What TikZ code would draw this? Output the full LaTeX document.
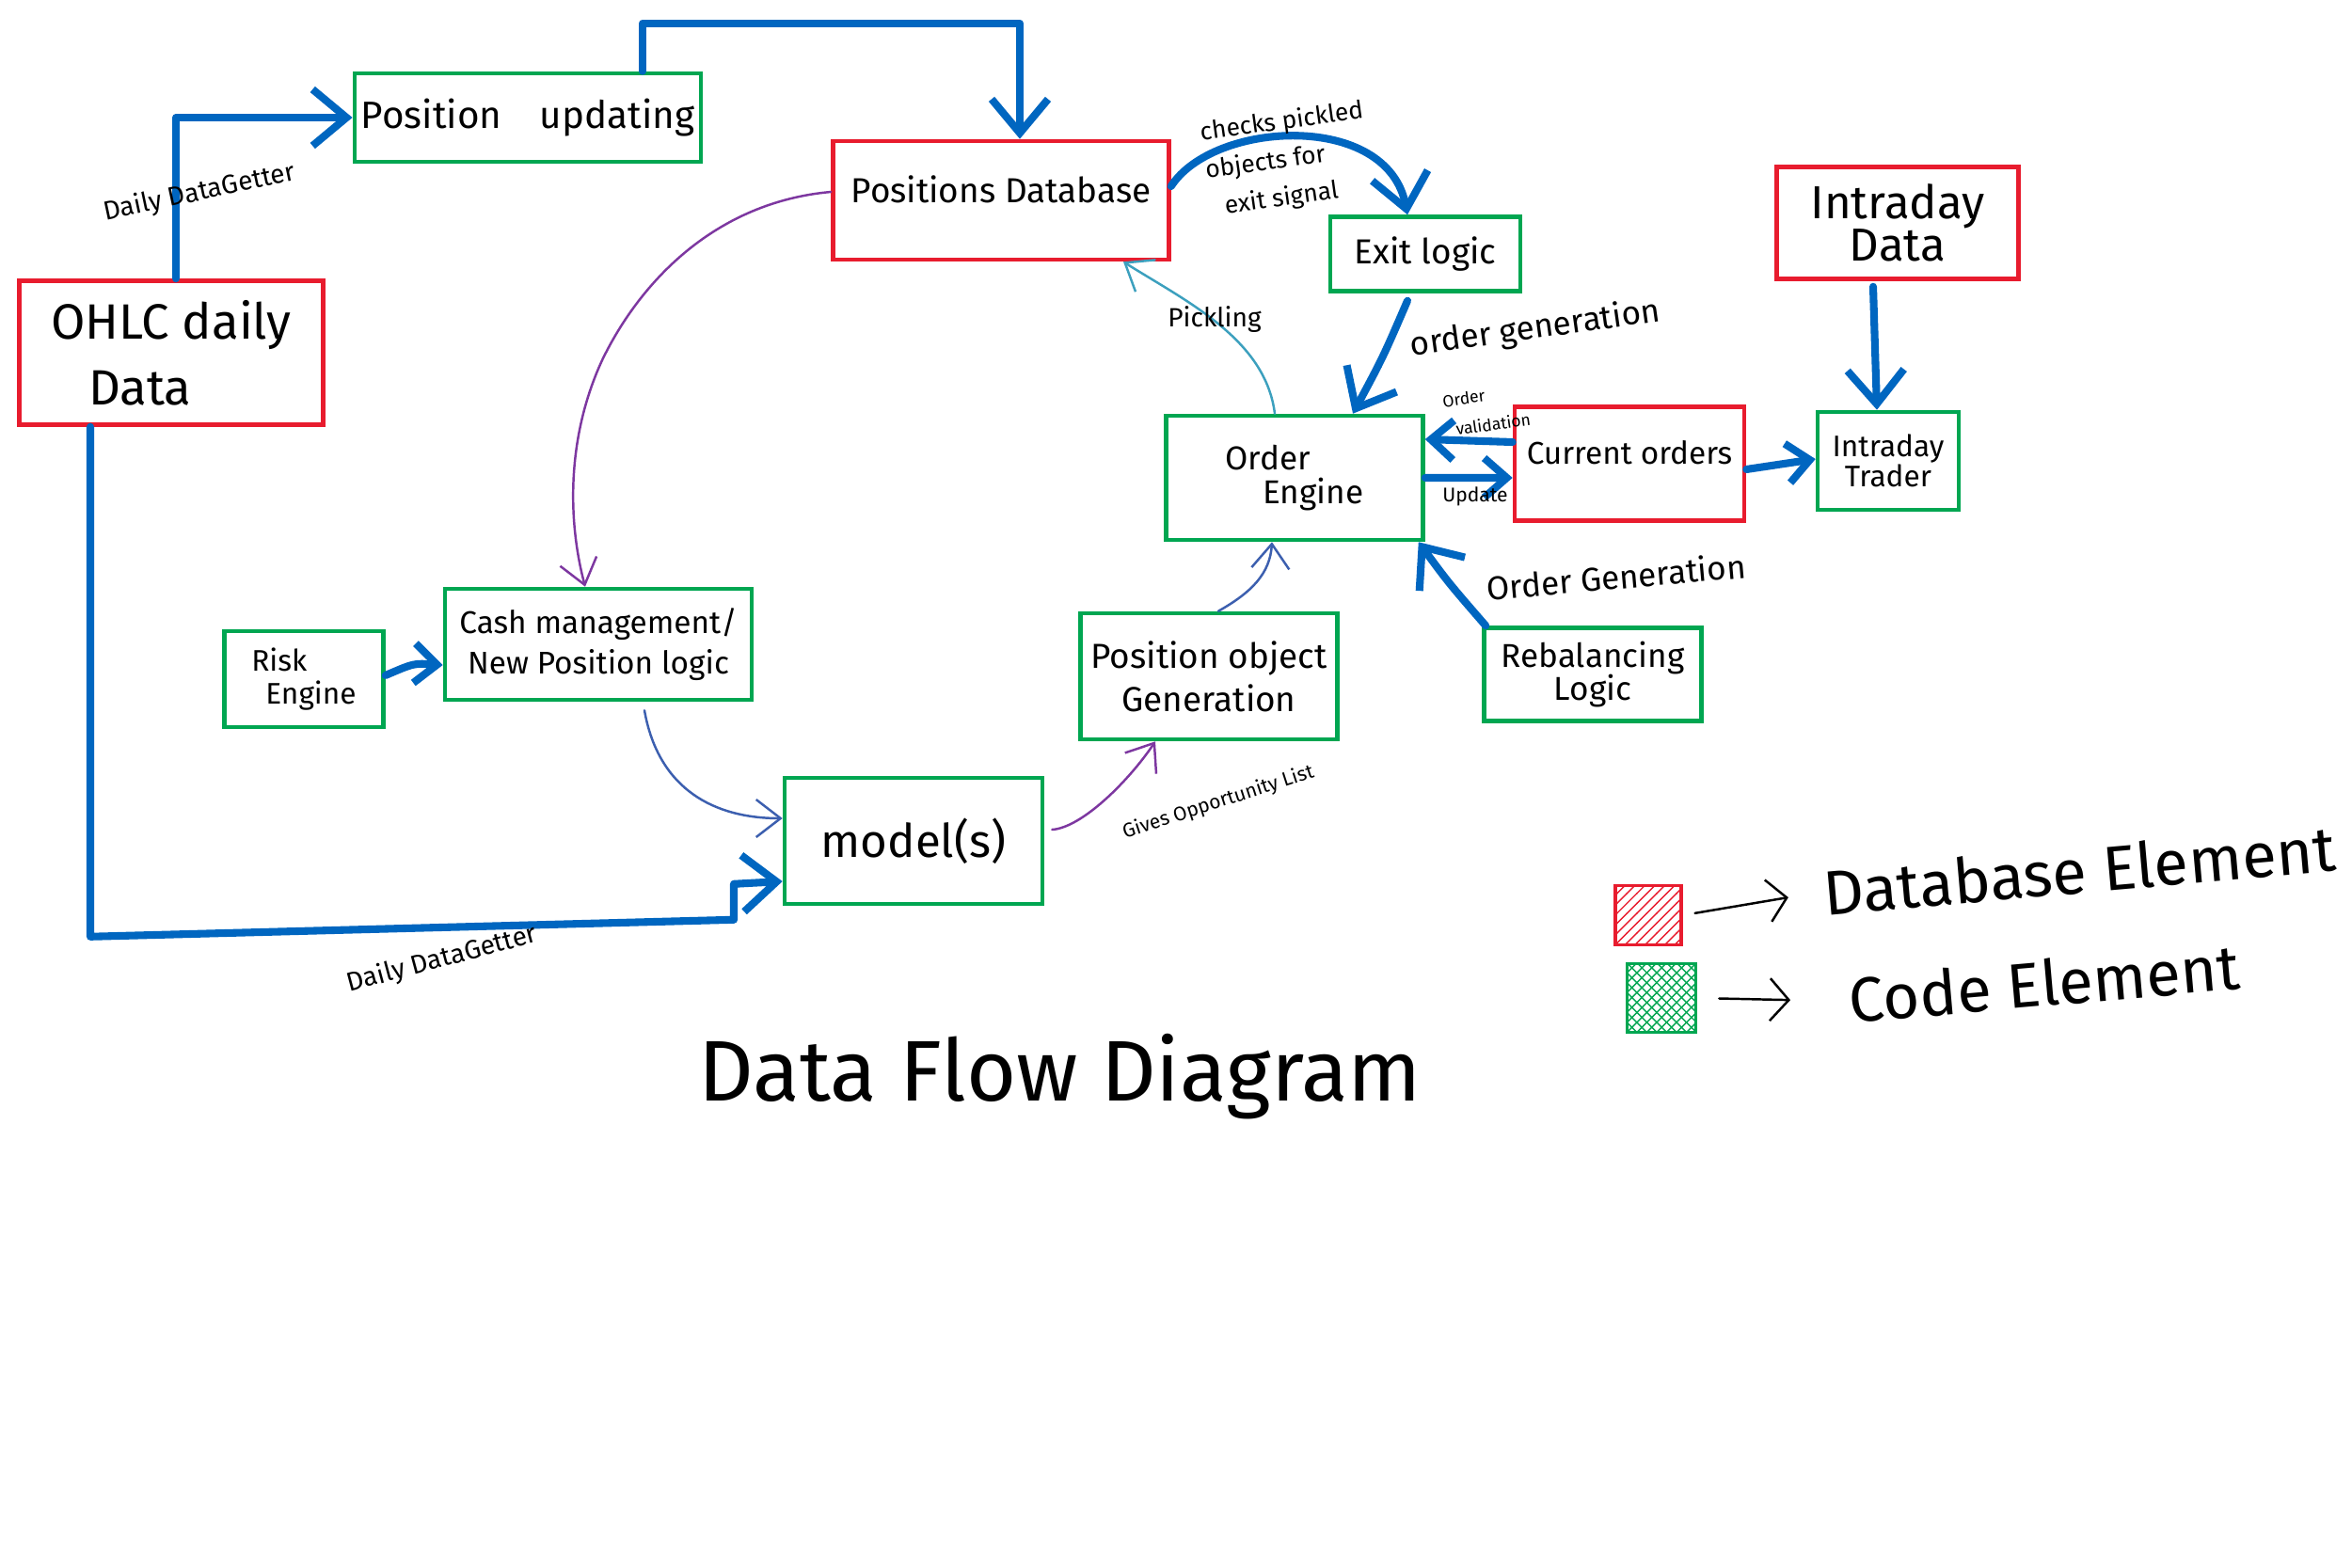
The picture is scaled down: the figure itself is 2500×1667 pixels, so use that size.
\documentclass[tikz,border=0pt]{standalone}
\usepackage{fontspec}
\setmainfont{Fira Sans}
\usetikzlibrary{arrows.meta,patterns}

\definecolor{dbred}{RGB}{232,28,46}
\definecolor{codegreen}{RGB}{0,166,81}
\definecolor{flowblue}{RGB}{0,102,192}
\definecolor{pickpurple}{RGB}{125,55,160}
\definecolor{pickteal}{RGB}{60,160,190}
\definecolor{pickblue}{RGB}{60,95,175}

\begin{document}
\begin{tikzpicture}[x=0.1mm, y=-0.1mm,
      box/.style = {shape=rectangle, draw, line width=1.3pt, inner sep=2pt, align=center},
      dbbox/.style = {box, draw=dbred},
      codebox/.style = {box, draw=codegreen},
      flow/.style = {draw=flowblue, line width=2.3pt, line cap=round, line join=round,
        -{Straight Barb[length=3.6mm, width=6mm]}},
      short flow/.style = {flow, -{Straight Barb[length=2.4mm, width=4.2mm]}},
      pick/.style = {line width=0.7pt, line cap=round,
        -{Straight Barb[length=2.6mm, width=4mm]}},
      key/.style = {draw=black, line width=0.7pt, line cap=round,
        -{Straight Barb[length=2mm, width=4.5mm]}},
      lbl/.style = {font=\fontsize{8}{9}\selectfont, align=center, inner sep=0pt}]
  \fill[white] (0,0) rectangle (2500,1667);
  \useasboundingbox (0,0) rectangle (2500,1667);

  % database elements
  \node[dbbox, minimum width=32.3mm, minimum height=15.3mm, align=left,
    font=\fontsize{15}{20}\selectfont] (ohlc) at (182,375) {OHLC daily\\\hspace{4mm}Data};
  \node[dbbox, minimum width=35.7mm, minimum height=12.6mm,
    font=\fontsize{10.5}{13}\selectfont] (posdb) at (1064,213) {\raisebox{2.4mm}{Positions Database}};
  \node[dbbox, minimum width=25.7mm, minimum height=11.9mm,
    font=\fontsize{14}{13}\selectfont] (intradata) at (2017,237) {Intraday\\Data};
  \node[dbbox, minimum width=24.4mm, minimum height=12.1mm,
    font=\fontsize{9.5}{11}\selectfont] (curorders) at (1732,493) {\raisebox{2.4mm}{Current orders}};

  % code elements
  \node[codebox, minimum width=36.6mm, minimum height=9.4mm,
    font=\fontsize{11.5}{14}\selectfont] (posupd) at (561,125) {Position\quad updating};
  \node[codebox, minimum width=20.2mm, minimum height=7.9mm,
    font=\fontsize{10.5}{13}\selectfont] (exitlogic) at (1515,270) {Exit logic};
  \node[codebox, minimum width=27.3mm, minimum height=13.2mm, align=left,
    font=\fontsize{10}{10}\selectfont] (ordereng) at (1376,508) {Order\\\hspace{4mm}Engine};
  \node[codebox, minimum width=15mm, minimum height=10.4mm,
    font=\fontsize{9}{9}\selectfont] (intratrader) at (2007,490) {Intraday\\Trader};
  \node[codebox, minimum width=16.9mm, minimum height=10.2mm, align=left,
    font=\fontsize{9}{10}\selectfont] (risk) at (323,722) {Risk\\\hspace{1.5mm}Engine};
  \node[codebox, minimum width=32.6mm, minimum height=11.8mm,
    font=\fontsize{9.5}{12}\selectfont] (cashmgmt) at (636,685) {Cash management/\\New Position logic};
  \node[codebox, minimum width=27.3mm, minimum height=13.4mm,
    font=\fontsize{10.5}{13}\selectfont] (posobj) at (1285,719) {Position object\\Generation};
  \node[codebox, minimum width=27.4mm, minimum height=13.4mm,
    font=\fontsize{14}{16}\selectfont] (model) at (971,894) {model(s)};
  \node[codebox, minimum width=23.1mm, minimum height=9.9mm,
    font=\fontsize{10}{10}\selectfont] (rebal) at (1693,717) {Rebalancing\\Logic};

  % thick blue flows
  \draw[flow] ([xshift=0.5mm]ohlc.north) |- (posupd.west);
  \draw[flow] ([xshift=12.2mm]posupd.north) -- ++(0,-51) -| ([xshift=2mm]posdb.north);
  \draw[flow] ([xshift=-8.6mm]ohlc.south) -- ++(0,542) -- ++(684,-18) -- ++(0,-38)
    -- ([yshift=-4.3mm]model.west);
  \draw[flow] ([yshift=1.5mm]posdb.east) .. controls (1290,128) and (1475,118)
    .. ([xshift=-1.9mm]exitlogic.north);
  \draw[flow] ([xshift=-1.9mm, yshift=-0.8mm]exitlogic.south) .. controls (1470,380)
    .. ([xshift=6.2mm]ordereng.north);
  \draw[short flow] ([yshift=2.3mm]curorders.west) -- ([yshift=4.1mm]ordereng.east);
  \draw[short flow] (ordereng.east) -- ([yshift=-1.5mm]curorders.west);
  \draw[short flow] ([yshift=-0.6mm]curorders.east) -- ([yshift=0.2mm]intratrader.west);
  \draw[flow] ([xshift=-2.6mm, yshift=-0.6mm]intradata.south) -- ([xshift=-1.2mm]intratrader.north);
  \draw[flow] ([xshift=0.4mm]rebal.north west) .. controls (1540,620)
    .. ([xshift=-0.7mm]ordereng.south east);
  \draw[short flow] ([yshift=0.4mm]risk.east) .. controls (440,705) .. ([yshift=-2.2mm]cashmgmt.west);

  % thin pickling / model flows
  \draw[pick, pickteal] ([xshift=-2.1mm]ordereng.north) .. controls (1345,360) and (1260,320)
    .. ([xshift=13mm]posdb.south);
  \draw[pick, pickpurple] ([yshift=0.9mm]posdb.west) .. controls (760,215) and (680,300)
    .. (640,383) .. controls (600,470) and (605,560) .. ([xshift=-1.4mm]cashmgmt.north);
  \draw[pick, pickblue] ([xshift=4.9mm, yshift=-0.9mm]cashmgmt.south) .. controls (700,840) and (760,870)
    .. ([yshift=2.4mm]model.west);
  \draw[pick, pickpurple] ([xshift=0.8mm, yshift=1.2mm]model.east) .. controls (1150,880) and (1200,830)
    .. ([xshift=-5.7mm]posobj.south);
  \draw[pick, pickblue] ([xshift=1mm]posobj.north) .. controls (1330,630) and (1350,610)
    .. ([xshift=-2.4mm]ordereng.south);

  % connector labels
  \node[lbl, rotate=12] (getter1) at (212,205) {Daily DataGetter};
  \node[lbl, rotate=15] (getter2) at (470,1020) {Daily DataGetter};
  \node[lbl, rotate=8, align=left, font=\fontsize{7.5}{11.5}\selectfont] (checks) at (1368,170)
    {checks pickled\\objects for\\\hspace{1.5mm}exit signal};
  \node[lbl, rotate=8, font=\fontsize{10}{12}\selectfont] (ordergen1) at (1632,350) {order generation};
  \node[lbl] (pickling) at (1291,340) {Pickling};
  \node[lbl, rotate=5, font=\fontsize{10}{12}\selectfont] (ordergen2) at (1718,613) {Order Generation};
  \node[lbl, rotate=18, font=\fontsize{6}{7}\selectfont] (gives) at (1295,853) {Gives Opportunity List};
  \node[lbl, rotate=8, align=left, font=\fontsize{5}{9}\selectfont] (validation) at (1580,436) {Order\\\hspace{1mm}validation};
  \node[lbl, font=\fontsize{6}{7}\selectfont] (update) at (1568,528) {Update};

  % legend
  \node[draw=dbred, line width=1pt, pattern=north east lines, pattern color=dbred,
    minimum width=7mm, minimum height=6.3mm, inner sep=0pt] (dbkey) at (1752,973) {};
  \node[draw=codegreen, line width=1pt, pattern=crosshatch, pattern color=codegreen,
    minimum width=7.3mm, minimum height=7.3mm, inner sep=0pt] (codekey) at (1766,1061) {};
  \node[font=\fontsize{19}{22}\selectfont, rotate=5] (dblabel) at (2210,925) {Database Element};
  \node[font=\fontsize{19}{22}\selectfont, rotate=5] (codelabel) at (2173,1045) {Code Element};
  \draw[key, shorten <=1.3mm, shorten >=2.5mm] (dbkey.east) -- (dblabel.west);
  \draw[key, shorten <=2.3mm, shorten >=5mm] (codekey.east) -- (codelabel.west);

  % title
  \node[font=\fontsize{26}{30}\selectfont] (title) at (1127,1145) {Data Flow Diagram};
\end{tikzpicture}
\end{document}
